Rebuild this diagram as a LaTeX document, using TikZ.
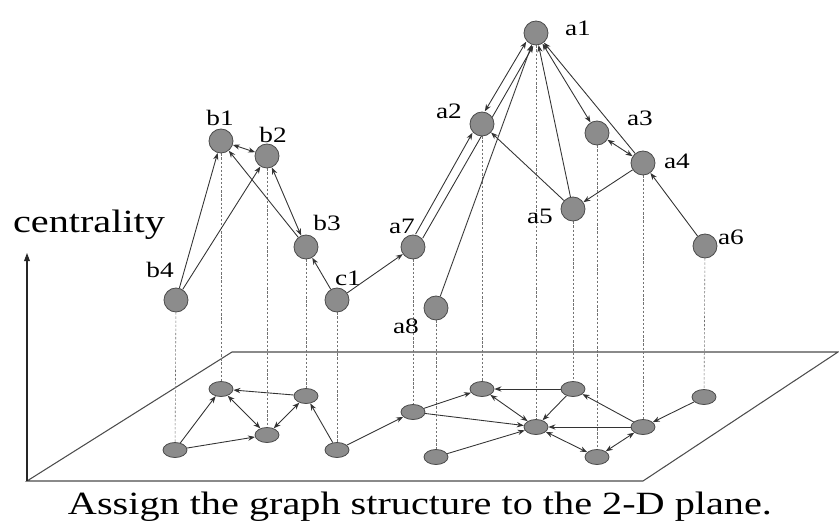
\documentclass[tikz,border=0pt]{standalone}
\usepackage{fontspec}
\setmainfont{Liberation Serif}[FakeStretch=1.24]
\usetikzlibrary{arrows.meta,shapes.geometric,backgrounds}
\begin{document}
\begin{tikzpicture}[x=0.03cm,y=-0.03cm,
  topnode/.style={circle,draw=black!70,fill=black!45,line width=0.7pt,minimum size=0.72cm,inner sep=0},
  botnode/.style={ellipse,draw=black!70,fill=black!45,line width=0.7pt,minimum width=0.72cm,minimum height=0.45cm,inner sep=0},
  lbl/.style={font=\fontsize{18.8}{20}\selectfont,anchor=base,inner sep=0},
  big/.style={font=\fontsize{27.7}{30}\selectfont,anchor=base,inner sep=0},
  link/.style={draw=black!80,line width=0.75pt,-{Stealth[length=6pt,width=4.5pt]}},
  blink/.style={draw=black!80,line width=0.75pt,{Stealth[length=6pt,width=4.5pt]}-{Stealth[length=6pt,width=4.5pt]}},
  drop/.style={draw=black!55,line width=0.5pt,dash pattern=on 2pt off 1.5pt},
  planeline/.style={draw=black!70,line width=0.9pt}]
\useasboundingbox (0,0) rectangle (839,525);

% plane and axis corners
\coordinate (p1) at (27,481);
\coordinate (p2) at (232,352);
\coordinate (p3) at (838,352);
\coordinate (p4) at (643,481);
\coordinate (ytop) at (27,253);

% top nodes
\node[topnode] (a1) at (536,33) {};
\node[topnode] (a2) at (482,124) {};
\node[topnode] (a3) at (597,133) {};
\node[topnode] (a4) at (643,163) {};
\node[topnode] (a5) at (573,209) {};
\node[topnode] (a6) at (705,246) {};
\node[topnode] (a7) at (413,247) {};
\node[topnode] (a8) at (436,308) {};
\node[topnode] (b1) at (221,141) {};
\node[topnode] (b2) at (267,156) {};
\node[topnode] (b3) at (306,247) {};
\node[topnode] (b4) at (176,300) {};
\node[topnode] (c1) at (337,300) {};

% bottom nodes
\node[botnode] (a1b) at (536,427) {};
\node[botnode] (a2b) at (482,389) {};
\node[botnode] (a3b) at (597,457) {};
\node[botnode] (a4b) at (643,427) {};
\node[botnode] (a5b) at (573,389) {};
\node[botnode] (a6b) at (704,397) {};
\node[botnode] (a7b) at (413,412) {};
\node[botnode] (a8b) at (436,457) {};
\node[botnode] (b1b) at (221,389) {};
\node[botnode] (b2b) at (267,435) {};
\node[botnode] (b3b) at (306,396) {};
\node[botnode] (b4b) at (175,450) {};
\node[botnode] (c1b) at (337,450) {};

% labels
\node[lbl] (la1) at (578,35) {a1};
\node[lbl] (la2) at (449,118) {a2};
\node[lbl] (la3) at (640,125) {a3};
\node[lbl] (la4) at (677,168) {a4};
\node[lbl] (la5) at (540,223) {a5};
\node[lbl] (la6) at (731,244) {a6};
\node[lbl] (la7) at (402,233) {a7};
\node[lbl] (la8) at (406,333) {a8};
\node[lbl] (lb1) at (220,125) {b1};
\node[lbl] (lb2) at (273,142) {b2};
\node[lbl] (lb3) at (327,230) {b3};
\node[lbl] (lb4) at (160,277) {b4};
\node[lbl] (lc1) at (348,285) {c1};
\node[big] (cent) at (89,232) {centrality};
\node[big] (cap) at (420,514) {Assign the graph structure to the 2-D plane.};

\begin{scope}[on background layer]
  % plane and axis
  \draw[planeline] (p1) -- (p2) -- (p3) -- (p4) -- cycle;
  \draw[draw=black!85,line width=0.9pt,-{Triangle[length=7pt,width=5pt]}] (p1) -- (ytop);
  % vertical drops
  \foreach \n in {a1,a2,a3,a4,a5,a6,a7,a8,b1,b2,b3,b4,c1}
    \draw[drop] (\n.center) -- (\n b.center);
  % top edges
  \draw[link] (b4) -- (b1);
  \draw[link] (b4) -- (b2);
  \draw[blink] (b1) -- (b2);
  \draw[link] (b3) -- (b1);
  \draw[blink] (b2) -- (b3);
  \draw[link] (c1) -- (b3);
  \draw[link] (c1) -- (a7);
  \draw[link,transform canvas={shift={(-3.5,-2)}}] (a7) -- (a2);
  \draw[link,transform canvas={shift={(3.5,2)}}] (a7) -- (a1);
  \draw[blink,transform canvas={shift={(-3.5,-2)}}] (a2) -- (a1);
  \draw[link] (a8) -- (a1);
  \draw[link] (a5) -- (a1);
  \draw[link] (a5) -- (a2);
  \draw[blink] (a1) -- (a3);
  \draw[link] (a4) -- (a1);
  \draw[blink] (a3) -- (a4);
  \draw[link] (a4) -- (a5);
  \draw[link] (a6) -- (a4);
  % bottom edges
  \draw[link] (b4b) -- (b1b);
  \draw[link] (b4b) -- (b2b);
  \draw[blink] (b1b) -- (b2b);
  \draw[link] (b3b) -- (b1b);
  \draw[blink] (b2b) -- (b3b);
  \draw[link] (c1b) -- (b3b);
  \draw[link] (c1b) -- (a7b);
  \draw[link] (a7b) -- (a2b);
  \draw[link] (a7b) -- (a1b);
  \draw[link] (a8b) -- (a1b);
  \draw[blink] (a2b) -- (a1b);
  \draw[link] (a5b) -- (a2b);
  \draw[link] (a5b) -- (a1b);
  \draw[blink] (a1b) -- (a3b);
  \draw[link] (a4b) -- (a1b);
  \draw[blink] (a3b) -- (a4b);
  \draw[link] (a4b) -- (a5b);
  \draw[link] (a6b) -- (a4b);
\end{scope}
\end{tikzpicture}
\end{document}
